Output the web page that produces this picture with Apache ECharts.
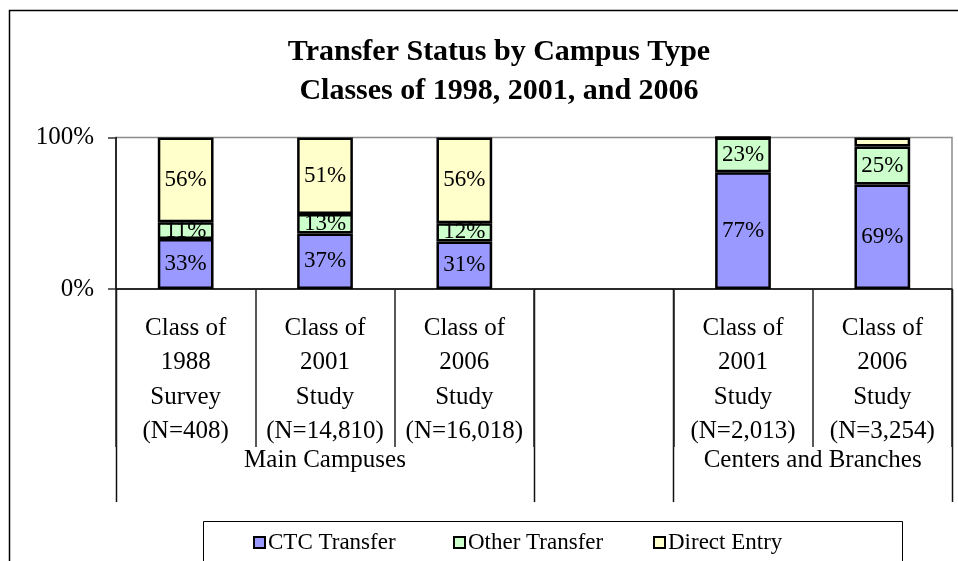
<!DOCTYPE html>
<html>
<head>
<meta charset="utf-8">
<script src="https://cdn.jsdelivr.net/npm/echarts@6/dist/echarts.min.js"></script>
<style>
html,body{margin:0;padding:0;background:#fff;}
#main{width:958px;height:561px;}
</style>
</head>
<body>
<div id="main"></div>
<script>
// ---- data ----
const titleLines = ['Transfer Status by Campus Type', 'Classes of 1998, 2001, and 2006'];
const categories = [
  'Class of\n1988\nSurvey\n(N=408)',
  'Class of\n2001\nStudy\n(N=14,810)',
  'Class of\n2006\nStudy\n(N=16,018)',
  '',
  'Class of\n2001\nStudy\n(N=2,013)',
  'Class of\n2006\nStudy\n(N=3,254)'
];
const groupNames = ['Main Campuses', '', 'Centers and Branches'];
const groupSpans = [3, 1, 2];
const seriesNames = ['CTC Transfer', 'Other Transfer', 'Direct Entry'];
const ctcTransfer   = [33, 37, 31, null, 77, 69];
const otherTransfer = [11, 13, 12, null, 23, 25];
const directEntry   = [56, 51, 56, null, 0, 6];
const yTicks = [0, 100];

// ---- build ----
const FONT = "'Liberation Serif', 'Times New Roman', serif";
const raw = [ctcTransfer, otherTransfer, directEntry];
const colors = ['#9999FF', '#CCFFCC', '#FFFFCC'];
const totals = categories.map((c, i) => raw.reduce((s, arr) => s + (arr[i] || 0), 0));

const series = raw.map((arr, k) => ({
  name: seriesNames[k],
  type: 'bar',
  stack: 'total',
  barWidth: '40%',
  data: arr.map((v, i) => v == null ? null : {
    value: totals[i] ? v / totals[i] * 100 : 0,
    raw: v
  }),
  itemStyle: { color: colors[k], borderColor: '#000', borderWidth: 2.5 },
  label: {
    show: true,
    position: 'inside',
    color: '#000',
    fontFamily: FONT,
    fontSize: 23,
    formatter: p => (p.data && p.data.raw >= 10) ? p.data.raw + '%' : ''
  },
  emphasis: { disabled: true }
}));

const legends = seriesNames.map((name, k) => ({
  left: 253 + k * 200, top: 531,
  padding: 0,
  itemWidth: 11, itemHeight: 11, itemGap: 0,
  icon: 'rect',
  data: [name],
  selectedMode: false,
  itemStyle: { borderColor: '#000', borderWidth: 2 },
  textStyle: { fontFamily: FONT, fontSize: 23, color: '#000', padding: [0, 0, 0, -2] }
}));

const chart = echarts.init(document.getElementById('main'), null, { renderer: 'canvas' });
chart.setOption({
  animation: false,
  backgroundColor: '#fff',
  title: {
    text: titleLines.join('\n'),
    left: 494,
    top: 28,
    textAlign: 'center',
    textStyle: { fontFamily: FONT, fontWeight: 'bold', fontSize: 30, lineHeight: 39, color: '#000' }
  },
  grid: {
    left: 116, right: 6, top: 137.5, bottom: 272,
    show: true, borderColor: '#8c8c8c', borderWidth: 1.5
  },
  legend: legends,
  xAxis: {
    type: 'category',
    data: categories,
    axisLine: { lineStyle: { color: '#000', width: 1.5 } },
    axisTick: { show: true, interval: 0, length: 158, lineStyle: { color: '#222', width: 1.5 } },
    axisLabel: {
      interval: 0, margin: 22, color: '#000',
      fontFamily: FONT, fontSize: 25, lineHeight: 34.5
    }
  },
  yAxis: {
    type: 'value',
    min: yTicks[0], max: yTicks[yTicks.length - 1], interval: yTicks[1] - yTicks[0],
    axisLine: { show: true, lineStyle: { color: '#000', width: 1.5 } },
    axisTick: { show: true, length: 8, lineStyle: { color: '#333', width: 1.5 } },
    splitLine: { show: false },
    axisLabel: { formatter: '{value}%', color: '#000', fontFamily: FONT, fontSize: 25, margin: 22 }
  },
  series: series
});

// ---- group labels & separators computed from the axis ----
const c0 = chart.convertToPixel({ xAxisIndex: 0 }, 0);
const c1 = chart.convertToPixel({ xAxisIndex: 0 }, 1);
const band = c1 - c0;
const axisY = chart.convertToPixel({ yAxisIndex: 0 }, 0);
const graphics = [];
let start = 0;
const bounds = [0];
groupSpans.forEach((span, g) => {
  const x0 = c0 - band / 2 + start * band;
  const x1 = x0 + span * band;
  if (groupNames[g]) {
    graphics.push({
      type: 'text', x: (x0 + x1) / 2, y: axisY + 171,
      style: { text: groupNames[g], fontFamily: FONT, fontSize: 25, fill: '#000', align: 'center', verticalAlign: 'middle' }
    });
  }
  start += span;
  bounds.push(start);
});
bounds.forEach(b => {
  const x = Math.round(c0 - band / 2 + b * band) + 0.5;
  graphics.push({
    type: 'line', shape: { x1: x, y1: axisY, x2: x, y2: axisY + 213 },
    style: { stroke: '#111', lineWidth: 1.5 }
  });
});
// outer chart frame and legend frame
graphics.push({ type: 'rect', shape: { x: 9.5, y: 10.5, width: 1000, height: 600 }, style: { fill: 'none', stroke: '#000', lineWidth: 1.5 }, z: 100 });
graphics.push({ type: 'rect', shape: { x: 203.5, y: 521.5, width: 699, height: 100 }, style: { fill: 'none', stroke: '#000', lineWidth: 1 }, z: 100 });
chart.setOption({ graphic: graphics });
</script>
</body>
</html>
